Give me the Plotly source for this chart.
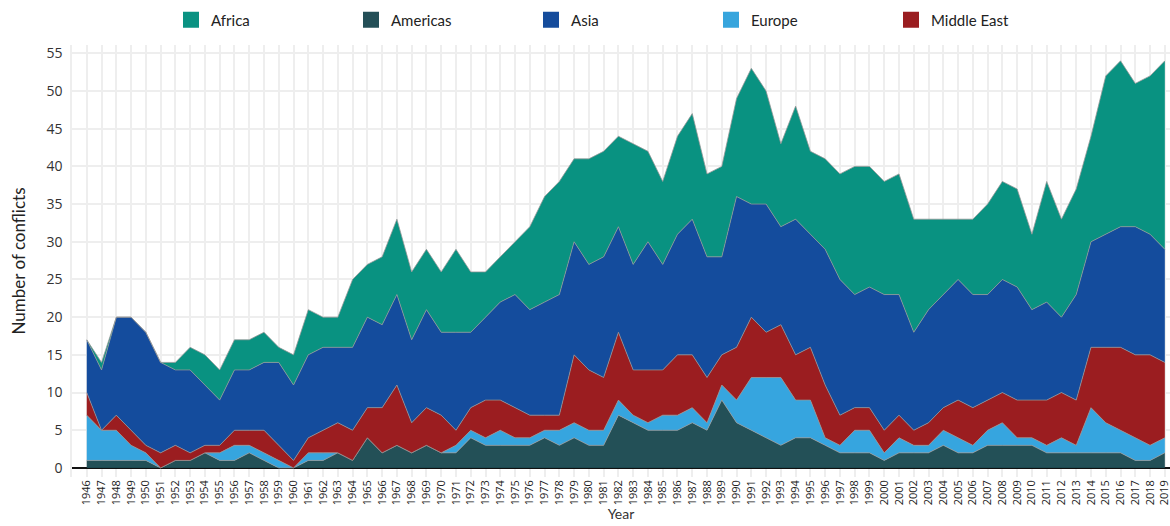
import plotly.graph_objects as go

years = list(range(1946, 2020))

americas = [1, 1, 1, 1, 1, 0, 1, 1, 2, 1, 1, 2, 1, 0, 0, 1, 1, 2, 1, 4,
            2, 3, 2, 3, 2, 2, 4, 3, 3, 3, 3, 4, 3, 4, 3, 3, 7, 6, 5, 5,
            5, 6, 5, 9, 6, 5, 4, 3, 4, 4, 3, 2, 2, 2, 1, 2, 2, 2, 3, 2,
            2, 3, 3, 3, 3, 2, 2, 2, 2, 2, 2, 1, 1, 2]
europe = [6, 4, 4, 2, 1, 0, 0, 0, 0, 1, 2, 1, 1, 1, 0, 1, 1, 0, 0, 0,
          0, 0, 0, 0, 0, 1, 1, 1, 2, 1, 1, 1, 2, 2, 2, 2, 2, 1, 1, 2,
          2, 2, 1, 2, 3, 7, 8, 9, 5, 5, 1, 1, 3, 3, 1, 2, 1, 1, 2, 2,
          1, 2, 3, 1, 1, 1, 2, 1, 6, 4, 3, 3, 2, 2]
middle_east = [3, 0, 2, 2, 1, 2, 2, 1, 1, 1, 2, 2, 3, 2, 1, 2, 3, 4, 4, 4,
               6, 8, 4, 5, 5, 2, 3, 5, 4, 4, 3, 2, 2, 9, 8, 7, 9, 6, 7, 6,
               8, 7, 6, 4, 7, 8, 6, 7, 6, 7, 7, 4, 3, 3, 3, 3, 2, 3, 3, 5,
               5, 4, 4, 5, 5, 6, 6, 6, 8, 10, 11, 11, 12, 10]
asia = [7, 8, 13, 15, 15, 12, 10, 11, 8, 6, 8, 8, 9, 11, 10, 11, 11, 10, 11, 12,
        11, 12, 11, 13, 11, 13, 10, 11, 13, 15, 14, 15, 16, 15, 14, 16, 14, 14, 17, 14,
        16, 18, 16, 13, 20, 15, 17, 13, 18, 15, 18, 18, 15, 16, 18, 16, 13, 15, 15, 16,
        15, 14, 15, 15, 12, 13, 10, 14, 14, 15, 16, 17, 16, 15]
africa = [0, 1, 0, 0, 0, 0, 1, 3, 4, 4, 4, 4, 4, 2, 4, 6, 4, 4, 9, 7,
          9, 10, 9, 8, 8, 11, 8, 6, 6, 7, 11, 14, 15, 11, 14, 14, 12, 16, 12, 11,
          13, 14, 11, 12, 13, 18, 15, 11, 15, 11, 12, 14, 17, 16, 15, 16, 15, 12, 10, 8,
          10, 12, 13, 13, 10, 16, 13, 14, 14, 21, 22, 19, 21, 25]

# (name, values, fill colour, legend colour, legend rank) - stacked bottom to top
series = [
    ("Americas", americas, "rgba(28,74,82,0.97)", "#244f57", 2),
    ("Europe", europe, "rgba(48,162,222,0.97)", "#37a5dd", 4),
    ("Middle East", middle_east, "rgba(152,22,25,0.97)", "#9a1d20", 5),
    ("Asia", asia, "rgba(12,70,154,0.97)", "#154c9c", 3),
    ("Africa", africa, "rgba(1,142,125,0.97)", "#0a9282", 1),
]

fig = go.Figure()
for name, vals, col, lcol, rank in series:
    fig.add_trace(go.Scatter(
        x=years, y=vals, name=name, mode="lines",
        stackgroup="one", fillcolor=col,
        line=dict(color="rgba(150,150,150,0.75)", width=1),
        showlegend=False, hoverinfo="x+y+name",
    ))
for name, vals, col, lcol, rank in series:
    fig.add_trace(go.Scatter(
        x=[None], y=[None], name=name, mode="markers",
        marker=dict(symbol="square", size=16, color=lcol),
        legendrank=rank, showlegend=True,
    ))

fig.update_layout(
    width=1170, height=526,
    margin=dict(l=72, r=0, t=45, b=49, autoexpand=False),
    paper_bgcolor="white", plot_bgcolor="white",
    font=dict(family="Lato, Open Sans, sans-serif", color="#333"),
    legend=dict(orientation="h", x=0.5, xanchor="center", y=1.058, yanchor="middle",
                font=dict(size=15, color="#222"), entrywidth=135,
                traceorder="normal", bgcolor="rgba(0,0,0,0)"),
    showlegend=True,
)
fig.update_xaxes(
    range=[1945, 2019.35], tickvals=years, ticktext=[str(y) for y in years],
    tickangle=-90, tickfont=dict(size=11, family="Open Sans, sans-serif", color="#222"),
    ticklabeloverflow="allow",
    showgrid=True, gridcolor="#eeeeee", gridwidth=1.5,
    title=dict(text="Year", font=dict(size=14, color="#333"), standoff=0),
    zeroline=False, showline=False, automargin=False,
)
fig.update_yaxes(
    range=[-1.2, 56.1], tick0=0, dtick=5,
    ticks="outside", ticklen=5, tickcolor="rgba(0,0,0,0)",
    tickfont=dict(size=14, family="Open Sans, sans-serif", color="#333"),
    showgrid=True, gridcolor="#eeeeee", gridwidth=1.5,
    zeroline=True, zerolinecolor="#111", zerolinewidth=1.5,
    showline=True, linecolor="#eeeeee", linewidth=1.5,
    title=dict(text="Number of conflicts", font=dict(size=17, color="#222"), standoff=16),
    automargin=False,
)

fig.write_html("out.html", config={"displayModeBar": False},
               post_script="document.body.style.margin='0';document.body.style.overflow='hidden';")
